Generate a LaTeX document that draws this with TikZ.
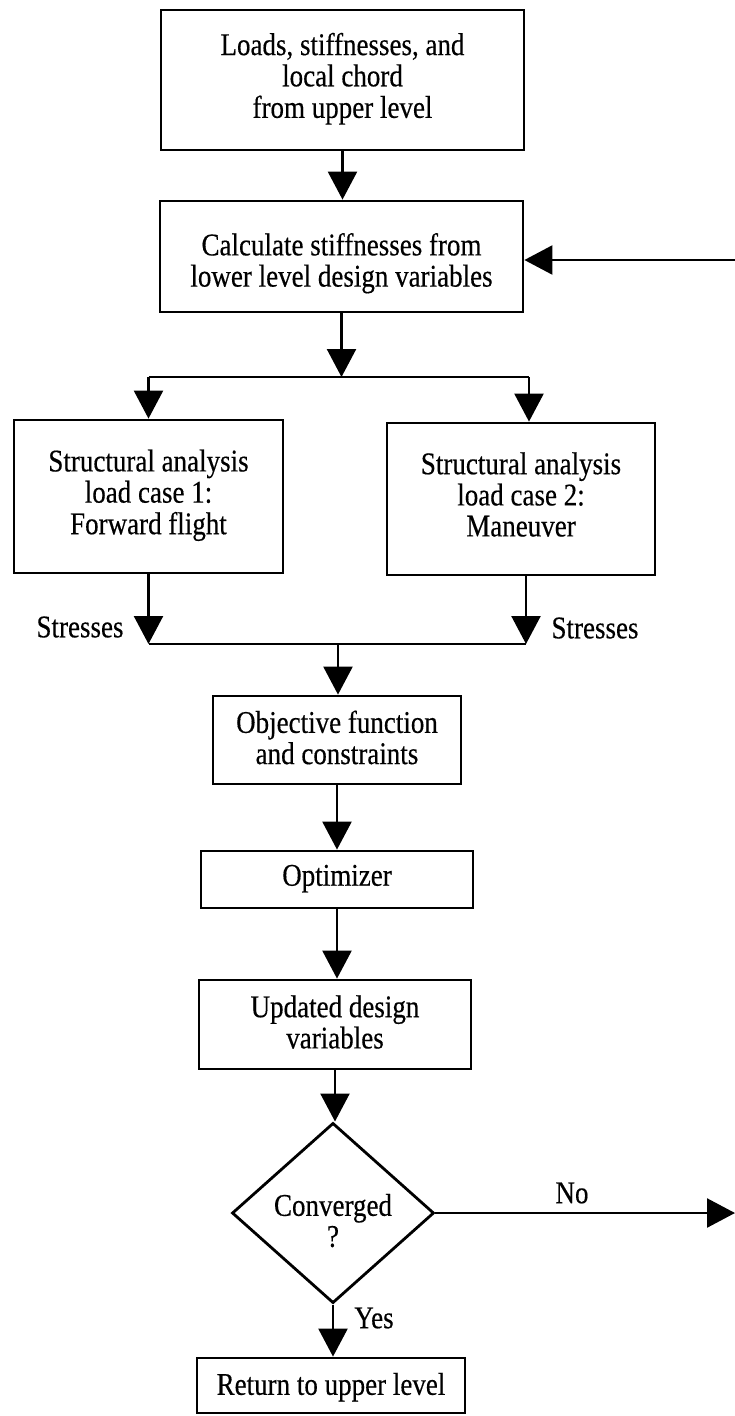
\documentclass[tikz,border=0pt]{standalone}
\usepackage{fontspec}
\setmainfont{Liberation Serif}[FakeBold=0.4]
\usetikzlibrary{arrows.meta,shapes.geometric,calc}

% centred, slightly tall multi-line text for the boxes
\newcommand{\boxtext}[1]{\scalebox{1}[1.17]{\begin{tabular}{@{}c@{}}#1\end{tabular}}}
% the same, set a little lower inside its box
\newcommand{\lowtext}[2]{\raisebox{-#1}[\height][\depth]{\boxtext{#2}}}

\begin{document}
\begin{tikzpicture}[x=1pt, y=-1pt,
  font=\fontsize{27}{26.5}\selectfont,
  procbox/.style 2 args={draw, line width=2.8pt, inner sep=0pt,
    minimum width=#1pt, minimum height=#2pt},
  decision/.style={draw, diamond, line width=2.8pt, inner sep=0pt,
    minimum width=202pt, minimum height=158pt},
  plainline/.style={line width=2.4pt},
  conn/.style={line width=2.4pt, -{Triangle[length=28pt,width=29pt]}},
  lbl/.style={inner sep=0pt}
]
\fill[white] (0,0) rectangle (735,1416);
\useasboundingbox (0,0) rectangle (735,1416);

% process boxes
\node[procbox={363}{140}] (load)  at (342.5,80)   {\boxtext{Loads, stiffnesses, and\\local chord\\from upper level}};
\node[procbox={363}{111}] (calc)  at (341.5,256.5) {\lowtext{8pt}{Calculate stiffnesses from\\lower level design variables}};
\node[procbox={269}{153}] (case1) at (148.5,496.5) {\boxtext{Structural analysis\\load case 1:\\Forward flight}};
\node[procbox={268}{152}] (case2) at (521,499)     {\boxtext{Structural analysis\\load case 2:\\Maneuver}};
\node[procbox={248}{88}]  (obj)   at (337,740)     {\lowtext{2pt}{Objective function\\and constraints}};
\node[procbox={272}{57}]  (opt)   at (337,879.5)   {\boxtext{Optimizer}};
\node[procbox={272}{89}]  (upd)   at (335,1024.5)  {\lowtext{2pt}{Updated design\\variables}};
\node[decision]           (conv)  at (333,1213)    {\lowtext{12pt}{Converged\\?}};
\node[procbox={268}{55}]  (ret)   at (331,1385.5)  {\lowtext{3pt}{Return to upper level}};

% branch points and free ends
\coordinate (split)  at (341.5,377);
\coordinate (merge)  at (338,644);
\coordinate (loopin) at (735,260);
\coordinate (noout)  at (735,1213);
\coordinate (c2in)   at ([xshift=8pt]case2.north);
\coordinate (c2out)  at ([xshift=5pt]case2.south);

% main flow
\draw[conn] (load.south) -- (load.south |- calc.north);
\draw[conn] (calc.south) -- (split);
\draw[plainline] (split -| case1.north) -- (split -| c2in);
\draw[conn] (split -| case1.north) -- (case1.north);
\draw[conn] (split -| c2in) -- (c2in);

\draw[conn] (case1.south) -- (case1.south |- merge);
\draw[conn] (c2out) -- (c2out |- merge);
\draw[plainline] (case1.south |- merge) -- (c2out |- merge);
\draw[conn] (merge) -- (merge |- obj.north);

\draw[conn] (obj.south) -- (obj.south |- opt.north);
\draw[conn] (opt.south) -- (opt.south |- upd.north);
\draw[conn] (upd.south) -- (upd.south |- conv.north);
\draw[conn] (conv.south) -- (conv.south |- ret.north);

% loop back and exit
\draw[conn] (loopin) -- (loopin -| calc.east);
\draw[conn] (conv.east) -- (noout);

% labels
\node[lbl] (s1)  at (80,627)   {\scalebox{1}[1.17]{Stresses}};
\node[lbl] (s2)  at (595,628)  {\scalebox{1}[1.17]{Stresses}};
\node[lbl] (no)  at (572,1193) {\scalebox{1}[1.17]{No}};
\node[lbl] (yes) at (374,1318) {\scalebox{1}[1.17]{Yes}};
\end{tikzpicture}
\end{document}
